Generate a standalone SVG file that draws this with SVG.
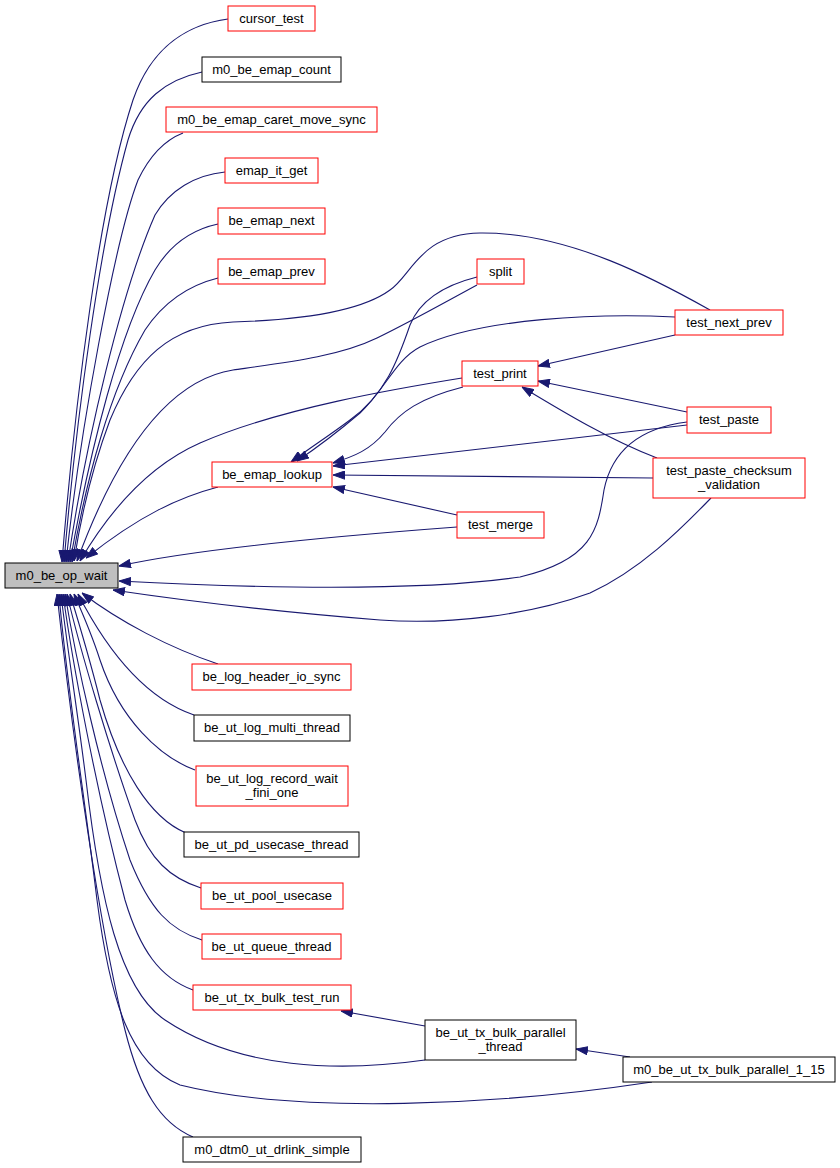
<svg xmlns="http://www.w3.org/2000/svg" width="840" height="1168" viewBox="0 0 840 1168">
<style>
.n rect{fill:#fff;stroke:#ff0000;stroke-width:1}
.n.b rect{stroke:#000}
.n.g rect{fill:#bfbfbf;stroke:#000}
text{font-family:"Liberation Sans",Arial,sans-serif;font-size:13px;fill:#000;text-anchor:middle}
#edges path{fill:none;stroke:#191970;stroke-width:1.1;marker-end:url(#ah)}
</style>
<defs>
<marker id="ah" viewBox="0 0 12 9" refX="12" refY="4.5" markerWidth="12" markerHeight="9" markerUnits="userSpaceOnUse" orient="auto">
<path d="M0.5,0.5 L12,4.5 L0.5,8.5 z" fill="#191970" stroke="#191970"/>
</marker>
</defs>
<rect width="840" height="1168" fill="#fff"/>
<g id="edges">
<path d="M228,19 C190,24 152,45 133,100 C100,200 75,400 62,562"/>
<path d="M202,72 C165,80 140,100 128,140 C100,240 76,420 64,562"/>
<path d="M183,133 C165,140 150,155 138,180 C115,240 80,430 66,562"/>
<path d="M225,172 C195,175 170,190 155,215 C122,290 86,440 68,562"/>
<path d="M218,224 C190,230 170,245 155,270 C120,330 90,450 70,562"/>
<path d="M218,278 C190,285 165,300 145,330 C110,390 86,480 72,562"/>
<path d="M710,310 C660,282 570,232 480,233 C420,234 412,275 390,290 C360,312 300,320 233,322 C170,325 135,360 110,420 C95,460 82,510 74,561"/>
<path d="M477,285 C440,305 410,322 377,338 C340,356 290,362 233,370 C170,380 118,450 77,561"/>
<path d="M462,378 C400,388 280,408 200,443 C150,465 110,510 80,561"/>
<path d="M218,487 C180,497 140,515 86,558"/>
<path d="M457,527 C350,535 200,548 119,566"/>
<path d="M687,422 C640,428 612,450 604,490 C598,530 592,560 520,577 C420,592 250,588 119,581"/>
<path d="M711,498 C680,530 640,570 590,593 C530,615 450,625 380,620 C280,612 180,600 113,590"/>
<path d="M218,664 C170,648 120,622 82,593"/>
<path d="M194,715 C150,700 112,660 78,594"/>
<path d="M195,770 C160,757 120,720 100,660 C92,635 82,612 74,594"/>
<path d="M186,833 C150,818 120,770 100,700 C90,660 78,620 70,594"/>
<path d="M201,888 C170,878 150,860 135,820 C110,750 80,650 67,594"/>
<path d="M202,940 C170,930 150,910 130,860 C100,770 76,660 65,594"/>
<path d="M193,990 C160,978 140,950 125,900 C96,790 72,660 63,594"/>
<path d="M425,1060 C340,1072 240,1070 165,1020 C120,990 100,900 86,780 C76,700 66,640 61,594"/>
<path d="M652,1082 C500,1105 300,1115 180,1085 C130,1065 110,1000 97,900 C85,800 66,680 59,594"/>
<path d="M193,1137 C160,1123 140,1090 125,1030 C100,930 74,750 57,594"/>
<path d="M477,277 C445,285 420,300 410,325 C398,360 385,395 350,420 C330,435 310,448 291,462"/>
<path d="M675,317 C600,313 480,318 420,347 C395,360 385,390 360,413 C340,430 318,447 297,461"/>
<path d="M463,387 C420,398 400,412 385,432 C370,450 355,456 333,463"/>
<path d="M687,425 L333,466"/>
<path d="M653,478 L333,475"/>
<path d="M457,515 L333,487"/>
<path d="M675,335 L538,366"/>
<path d="M687,412 L538,381"/>
<path d="M657,458 C610,440 565,413 522,387"/>
<path d="M425,1026 L341,1011"/>
<path d="M630,1057 L576,1049"/>
</g>
<g id="m0_be_op_wait" class="n g"><rect x="5" y="563" width="113" height="25"/><text x="61.5" y="580">m0_be_op_wait</text></g>
<g id="cursor_test" class="n"><rect x="228" y="6" width="87" height="25"/><text x="271.5" y="23">cursor_test</text></g>
<g id="m0_be_emap_count" class="n b"><rect x="202" y="57" width="139" height="25"/><text x="271.5" y="74">m0_be_emap_count</text></g>
<g id="m0_be_emap_caret_move_sync" class="n"><rect x="166" y="107" width="211" height="25"/><text x="271.5" y="124">m0_be_emap_caret_move_sync</text></g>
<g id="emap_it_get" class="n"><rect x="225" y="158" width="93" height="25"/><text x="271.5" y="175">emap_it_get</text></g>
<g id="be_emap_next" class="n"><rect x="218" y="208" width="107" height="26"/><text x="271.5" y="225">be_emap_next</text></g>
<g id="be_emap_prev" class="n"><rect x="218" y="259" width="107" height="25"/><text x="271.5" y="276">be_emap_prev</text></g>
<g id="split" class="n"><rect x="477" y="259" width="47" height="25"/><text x="500.5" y="276">split</text></g>
<g id="test_next_prev" class="n"><rect x="675" y="310" width="108" height="25"/><text x="729" y="327">test_next_prev</text></g>
<g id="test_print" class="n"><rect x="462" y="361" width="76" height="25"/><text x="500" y="378">test_print</text></g>
<g id="test_paste" class="n"><rect x="687" y="407" width="84" height="26"/><text x="729" y="424">test_paste</text></g>
<g id="test_paste_checksum_validation" class="n"><rect x="653" y="458" width="152" height="40"/><text x="729" y="475">test_paste_checksum</text><text x="729" y="489">_validation</text></g>
<g id="be_emap_lookup" class="n"><rect x="212" y="462" width="120" height="25"/><text x="272" y="479">be_emap_lookup</text></g>
<g id="test_merge" class="n"><rect x="457" y="512" width="87" height="26"/><text x="500.5" y="529">test_merge</text></g>
<g id="be_log_header_io_sync" class="n"><rect x="192" y="664" width="159" height="26"/><text x="271.5" y="681">be_log_header_io_sync</text></g>
<g id="be_ut_log_multi_thread" class="n b"><rect x="194" y="715" width="156" height="26"/><text x="272" y="732">be_ut_log_multi_thread</text></g>
<g id="be_ut_log_record_wait_fini_one" class="n"><rect x="196" y="766" width="152" height="40"/><text x="272" y="783">be_ut_log_record_wait</text><text x="272" y="797">_fini_one</text></g>
<g id="be_ut_pd_usecase_thread" class="n b"><rect x="184" y="832" width="175" height="25"/><text x="271.5" y="849">be_ut_pd_usecase_thread</text></g>
<g id="be_ut_pool_usecase" class="n"><rect x="201" y="883" width="142" height="26"/><text x="272" y="900">be_ut_pool_usecase</text></g>
<g id="be_ut_queue_thread" class="n"><rect x="202" y="934" width="139" height="25"/><text x="271.5" y="951">be_ut_queue_thread</text></g>
<g id="be_ut_tx_bulk_test_run" class="n"><rect x="193" y="985" width="158" height="25"/><text x="272" y="1002">be_ut_tx_bulk_test_run</text></g>
<g id="be_ut_tx_bulk_parallel_thread" class="n b"><rect x="425" y="1020" width="151" height="40"/><text x="500.5" y="1037">be_ut_tx_bulk_parallel</text><text x="500.5" y="1051">_thread</text></g>
<g id="m0_be_ut_tx_bulk_parallel_1_15" class="n b"><rect x="623" y="1057" width="212" height="25"/><text x="729" y="1074">m0_be_ut_tx_bulk_parallel_1_15</text></g>
<g id="m0_dtm0_ut_drlink_simple" class="n b"><rect x="183" y="1137" width="178" height="25"/><text x="272" y="1154">m0_dtm0_ut_drlink_simple</text></g>
</svg>
